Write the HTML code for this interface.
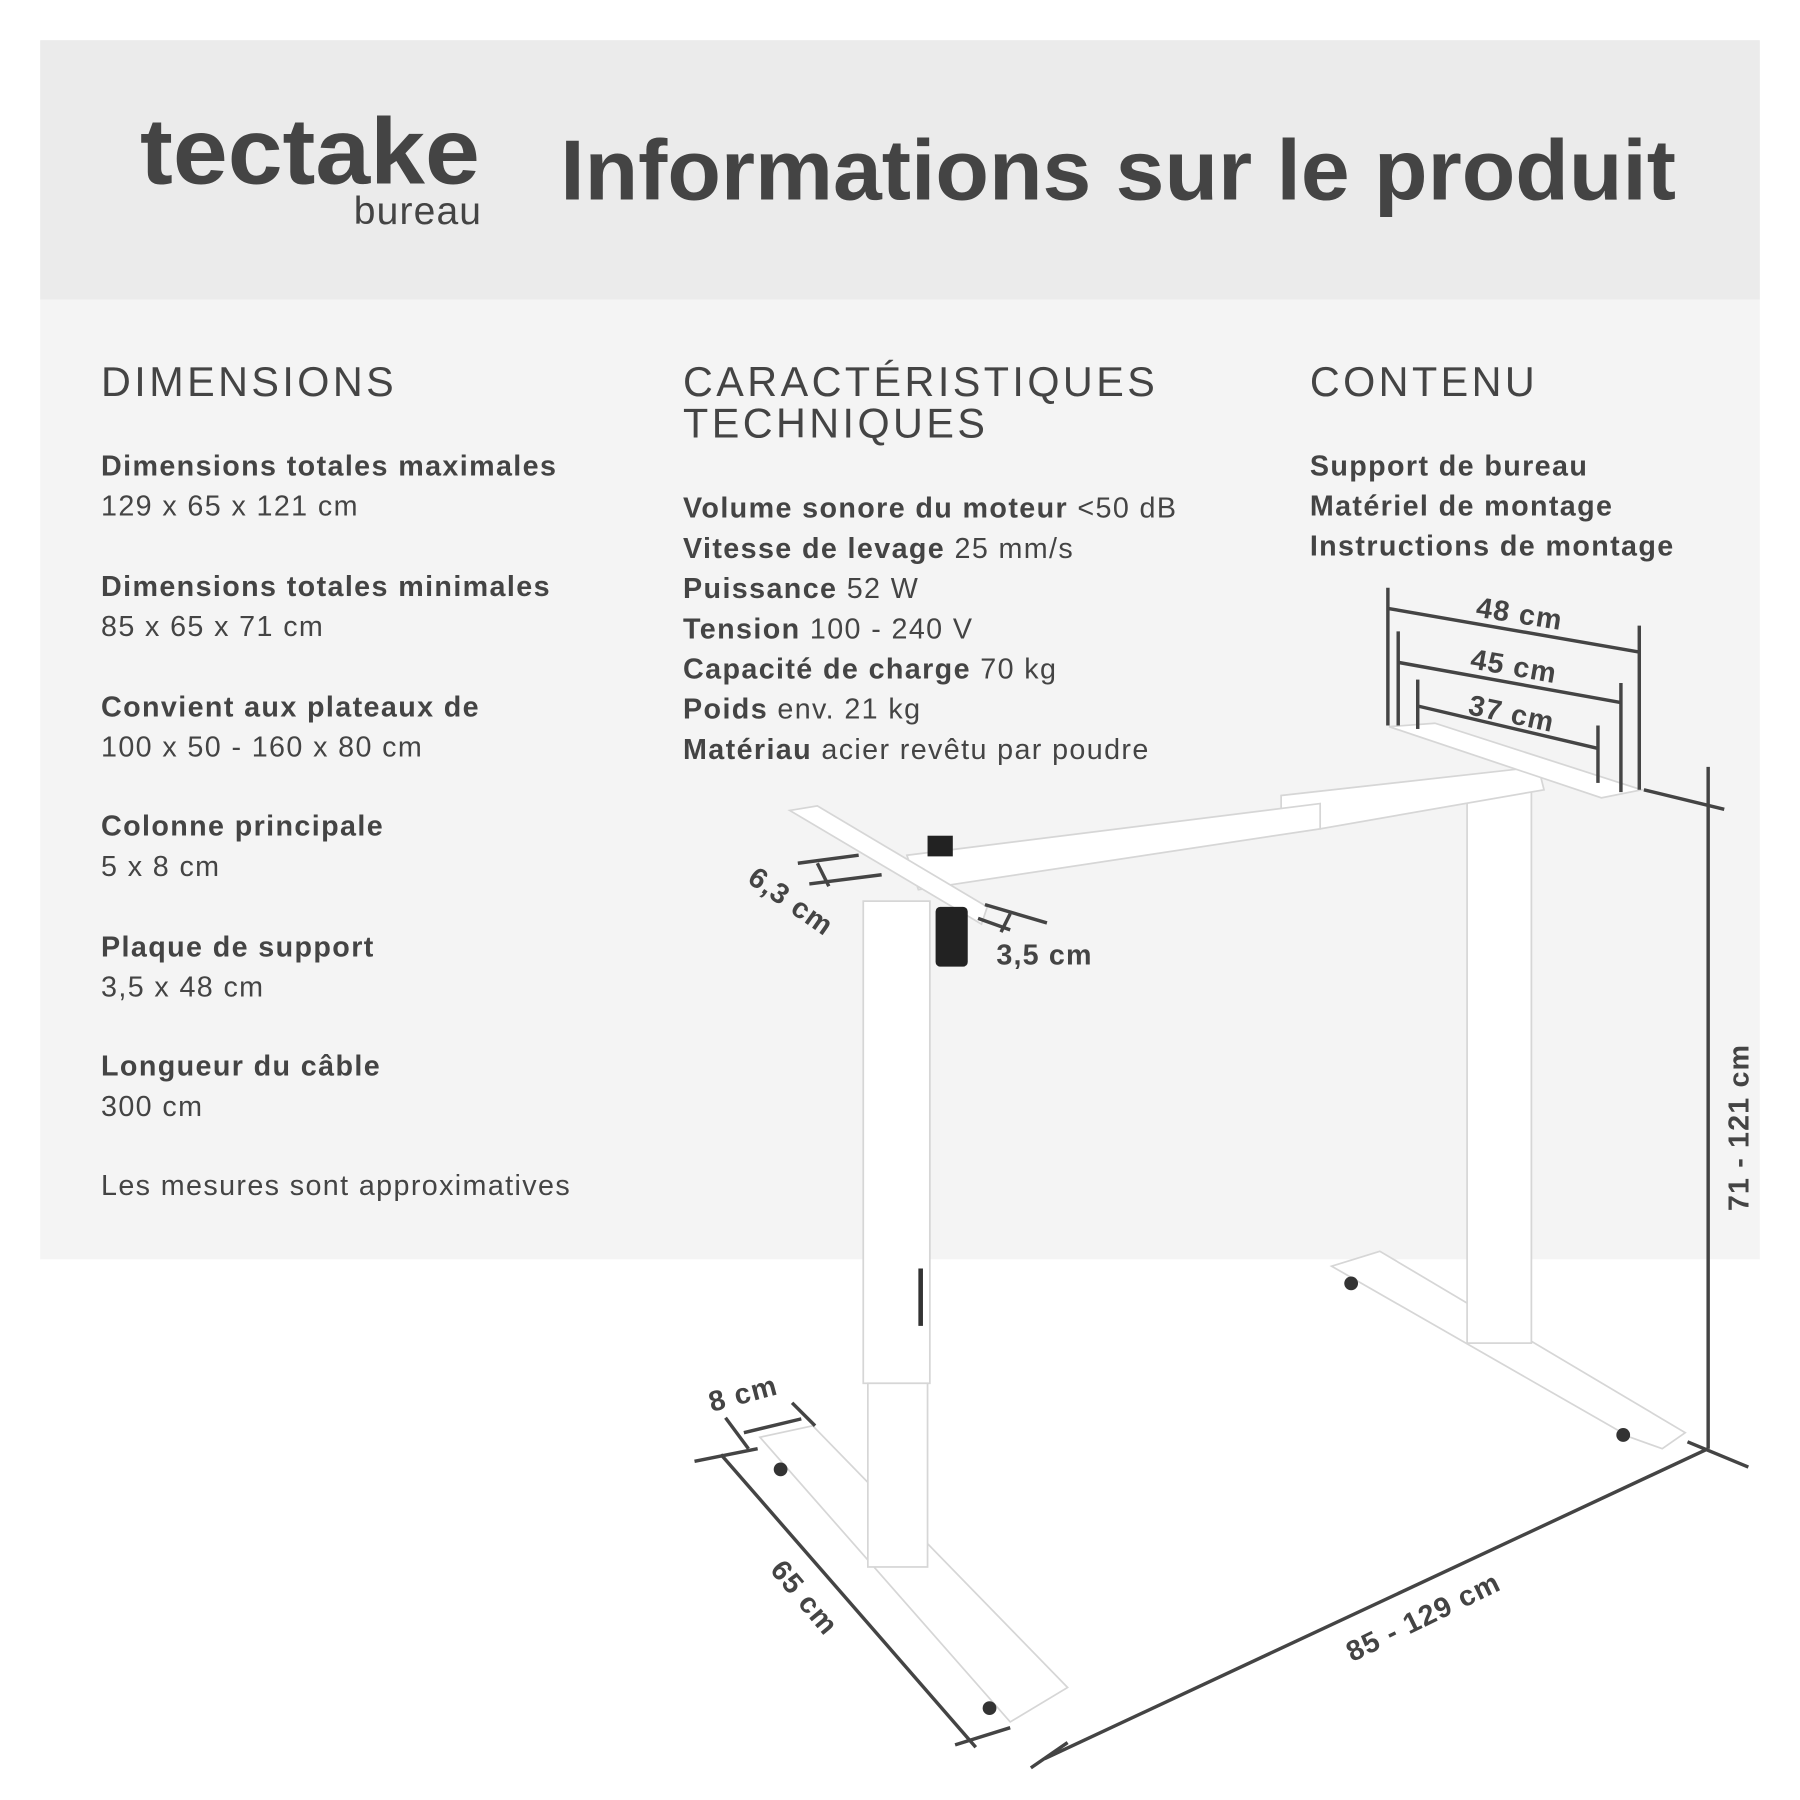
<!DOCTYPE html>
<html><head><meta charset="utf-8"><style>html,body{margin:0;padding:0;background:#fff}svg{display:block}</style></head>
<body>
<svg width="1800" height="1800" viewBox="0 0 1568 1568" xmlns="http://www.w3.org/2000/svg" font-family="'Liberation Sans', sans-serif">
<rect x="0" y="0" width="1568" height="1568" fill="#fff"/>
<rect x="35" y="35" width="1498" height="226" fill="#ebebeb"/>
<rect x="35" y="261" width="1498" height="836" fill="#f4f4f4"/>
<g fill="#444">
<text x="122" y="160" font-size="82" font-weight="bold" textLength="296" lengthAdjust="spacingAndGlyphs">tectake</text>
<text x="420" y="195" font-size="34" text-anchor="end" letter-spacing="1">bureau</text>
<text x="488" y="174" font-size="74" font-weight="bold" textLength="972" lengthAdjust="spacingAndGlyphs">Informations sur le produit</text>
<g font-size="36" letter-spacing="3">
<text x="88" y="345">DIMENSIONS</text>
<text x="595" y="345">CARACTÉRISTIQUES</text>
<text x="595" y="381">TECHNIQUES</text>
<text x="1141" y="345">CONTENU</text>
</g>
<g font-size="25" letter-spacing="1.2">
<text x="88" y="414" font-weight="bold">Dimensions totales maximales</text>
<text x="88" y="449">129 x 65 x 121 cm</text>
<text x="88" y="519" font-weight="bold">Dimensions totales minimales</text>
<text x="88" y="554">85 x 65 x 71 cm</text>
<text x="88" y="624" font-weight="bold">Convient aux plateaux de</text>
<text x="88" y="659">100 x 50 - 160 x 80 cm</text>
<text x="88" y="728" font-weight="bold">Colonne principale</text>
<text x="88" y="763">5 x 8 cm</text>
<text x="88" y="833" font-weight="bold">Plaque de support</text>
<text x="88" y="868">3,5 x 48 cm</text>
<text x="88" y="937" font-weight="bold">Longueur du câble</text>
<text x="88" y="972">300 cm</text>
<text x="88" y="1041">Les mesures sont approximatives</text>
<text x="595" y="451"><tspan font-weight="bold">Volume sonore du moteur</tspan> &lt;50 dB</text>
<text x="595" y="486"><tspan font-weight="bold">Vitesse de levage</tspan> 25 mm/s</text>
<text x="595" y="521"><tspan font-weight="bold">Puissance</tspan> 52 W</text>
<text x="595" y="556"><tspan font-weight="bold">Tension</tspan> 100 - 240 V</text>
<text x="595" y="591"><tspan font-weight="bold">Capacité de charge</tspan> 70 kg</text>
<text x="595" y="626"><tspan font-weight="bold">Poids</tspan> env. 21 kg</text>
<text x="595" y="661"><tspan font-weight="bold">Matériau</tspan> acier revêtu par poudre</text>
<text x="1141" y="414" font-weight="bold">Support de bureau</text>
<text x="1141" y="449" font-weight="bold">Matériel de montage</text>
<text x="1141" y="484" font-weight="bold">Instructions de montage</text>
</g>
</g>
<!-- table frame -->
<g fill="#fff" stroke="#d6d6d6" stroke-width="1.5">
<polygon points="1160,1103 1202,1090 1468,1248 1448,1262 1420,1252"/>
<rect x="1278" y="690" width="56" height="480"/>
<polygon points="1116,693 1340,668 1345,688 1150,722 1116,705"/>
<polygon points="1210,633 1250,630 1430,688 1395,695"/>
<polygon points="790,745 1150,700 1150,722 800,775"/>
<polygon points="662,1252 708,1242 930,1470 880,1500"/>
<rect x="752" y="785" width="58" height="420"/>
<rect x="756" y="1205" width="52" height="160"/>
<polygon points="688,706 712,702 860,790 855,805"/>
</g>
<rect x="815" y="790" width="28" height="52" rx="4" fill="#222"/>
<rect x="808" y="728" width="22" height="18" fill="#222"/>
<rect x="800" y="1105" width="4" height="50" fill="#333"/>
<g fill="#333"><circle cx="1177" cy="1118" r="6"/><circle cx="1414" cy="1250" r="6"/><circle cx="680" cy="1280" r="6"/><circle cx="862" cy="1488" r="6"/></g>
<!-- dimension lines -->
<g stroke="#444" stroke-width="3" fill="none">
<line x1="1209" y1="512" x2="1209" y2="632"/><line x1="1428" y1="545" x2="1428" y2="688"/><line x1="1209" y1="530" x2="1428" y2="568"/>
<line x1="1218" y1="550" x2="1218" y2="632"/><line x1="1412" y1="595" x2="1412" y2="690"/><line x1="1218" y1="577" x2="1412" y2="612"/>
<line x1="1235" y1="592" x2="1235" y2="635"/><line x1="1392" y1="632" x2="1392" y2="682"/><line x1="1235" y1="615" x2="1392" y2="652"/>
<line x1="1432" y1="688" x2="1502" y2="705"/><line x1="1488" y1="668" x2="1488" y2="1262"/><line x1="1470" y1="1256" x2="1523" y2="1278"/>
<line x1="1488" y1="1262" x2="910" y2="1532"/><line x1="930" y1="1518" x2="898" y2="1540"/>
<line x1="605" y1="1273" x2="660" y2="1262"/><line x1="628" y1="1267" x2="850" y2="1522"/><line x1="832" y1="1520" x2="880" y2="1505"/>
<line x1="632" y1="1235" x2="652" y2="1262"/><line x1="690" y1="1222" x2="710" y2="1242"/><line x1="648" y1="1248" x2="698" y2="1236"/>
<line x1="695" y1="752" x2="748" y2="745"/><line x1="705" y1="770" x2="768" y2="762"/><line x1="712" y1="752" x2="722" y2="772"/>
<line x1="858" y1="788" x2="912" y2="804"/><line x1="852" y1="800" x2="880" y2="810"/><line x1="880" y1="796" x2="872" y2="812"/>
</g>
<g fill="#444" font-size="25" font-weight="bold" letter-spacing="1">
<text x="1285" y="537" transform="rotate(9 1285 537)">48 cm</text>
<text x="1280" y="582" transform="rotate(10 1280 582)">45 cm</text>
<text x="1278" y="622" transform="rotate(12 1278 622)">37 cm</text>
<text x="868" y="840">3,5 cm</text>
<text x="650" y="768" transform="rotate(35 650 768)">6,3 cm</text>
<text x="620" y="1230" transform="rotate(-15 620 1230)">8 cm</text>
<text x="670" y="1368" transform="rotate(50 670 1368)">65 cm</text>
<text x="1178" y="1448" transform="rotate(-26 1178 1448)">85 - 129 cm</text>
<text x="1523" y="1055" transform="rotate(-90 1523 1055)">71 - 121 cm</text>
</g>
</svg>
</body></html>
